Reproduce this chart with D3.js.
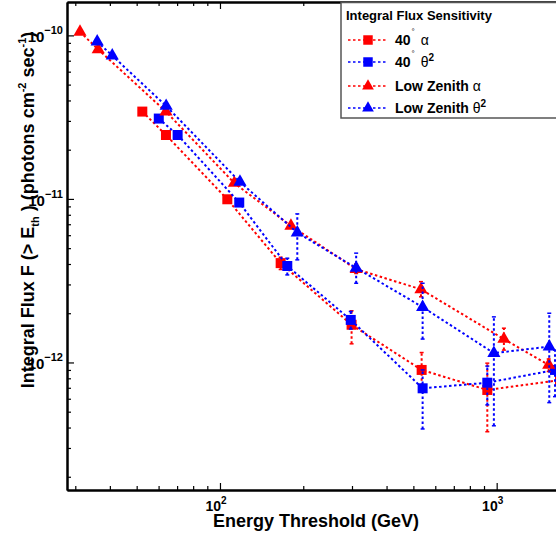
<!DOCTYPE html>
<html><head><meta charset="utf-8">
<script src="https://cdn.jsdelivr.net/npm/d3@7"></script>
<style>
body{margin:0;background:#fff;}
svg{display:block;font-family:"Liberation Sans",Arial,Helvetica,sans-serif;}
</style></head>
<body>
<script>
// ---- data ----
const seriesNames = ["40° α", "40° θ²", "Low Zenith α", "Low Zenith θ²"];
// 40 deg alpha (red squares)
const e40a  = [52.4, 63.8, 106.3, 165.7, 299, 535.6, 925, 1694];
const f40a  = [3.42e-11, 2.46e-11, 9.95e-12, 4.05e-12, 1.70e-12, 9.0e-13, 6.79e-13, 7.8e-13];
const lo40a = [null, null, null, 3.7e-12, 1.30e-12, 7.2e-13, 3.77e-13, null];
const hi40a = [null, null, null, 4.4e-12, 2.07e-12, 1.15e-12, 9.9e-13, null];
// 40 deg theta^2 (blue squares)
const e40t  = [60.1, 70.3, 117.4, 175.1, 296.9, 540, 925, 1625];
const f40t  = [3.1e-11, 2.46e-11, 9.5e-12, 3.89e-12, 1.82e-12, 6.95e-13, 7.52e-13, 9.0e-13];
const lo40t = [null, null, null, 3.43e-12, 1.6e-12, 3.92e-13, 5.5e-13, 6.18e-13];
const hi40t = [null, null, null, 4.34e-12, 2.05e-12, 9.0e-13, 9.5e-13, 1.19e-12];
// Low zenith alpha (red triangles)
const eLZa  = [31.2, 36.3, 63.8, 112.7, 180.5, 310.6, 532.6, 1062, 1542];
const fLZa  = [1.05e-10, 8.2e-11, 3.42e-11, 1.25e-11, 6.84e-12, 3.72e-12, 2.8e-12, 1.39e-12, 9.66e-13];
const loLZa = [null, null, null, null, null, 3.5e-12, 2.52e-12, 1.19e-12, 8.8e-13];
const hiLZa = [null, null, null, null, null, 4.0e-12, 3.12e-12, 1.62e-12, 1.05e-12];
// Low zenith theta^2 (blue triangles)
const eLZt  = [36.0, 40.8, 63.9, 118.1, 190.3, 310.6, 540, 977, 1549];
const fLZt  = [9.16e-11, 7.52e-11, 3.7e-11, 1.27e-11, 6.22e-12, 3.78e-12, 2.18e-12, 1.14e-12, 1.25e-12];
const loLZt = [null, null, null, null, 4.24e-12, 3.05e-12, 1.39e-12, 4.1e-13, 5.68e-13];
const hiLZt = [null, null, null, null, 8.1e-12, 4.66e-12, 3.05e-12, 1.9e-12, 2.0e-12];

const xMajor = [100, 1000];
const xMajorLabels = [["10","2"],["10","3"]];
const yMajor = [1e-10, 1e-11, 1e-12];
const yMajorLabels = [["10","−10"],["10","−11"],["10","−12"]];

(function(){
// ---- layout ----
const W = 556, H = 541;
const svg = d3.select("body").append("svg").attr("width", W).attr("height", H);
const leftX = 67, topY = 2, bottomY = 490, decade = 276.7;
const xDom = [28, 2500];
const x = d3.scaleLog().domain(xDom).range([leftX, leftX + decade * Math.log10(xDom[1] / xDom[0])]);
const y = d3.scaleLog().domain([1.66e-13, 1.6e-10]).range([bottomY, topY]);

const xMinor = [];
for (const d of [10, 100, 1000]) for (let k = 2; k <= 9; k++) { const v = k * d; if (v > xDom[0] && v < xDom[1]) xMinor.push(v); }
const yMinor = [];
for (const d of [1e-13, 1e-12, 1e-11, 1e-10]) for (let k = 2; k <= 9; k++) { const v = k * d; if (v > 1.66e-13 && v < 1.6e-10) yMinor.push(v); }

const defs = svg.append("defs");
defs.append("clipPath").attr("id", "clip").append("rect")
  .attr("x", leftX).attr("y", topY).attr("width", 700).attr("height", bottomY - topY);

// ---- axes ----
const ax = svg.append("g");
function noLabel(a){ return a.tickFormat(() => ""); }
ax.append("g").attr("transform", `translate(0,${bottomY})`)
  .call(noLabel(d3.axisBottom(x).tickValues(xMinor).tickSizeInner(-4).tickSizeOuter(0)));
ax.append("g").attr("transform", `translate(0,${bottomY})`)
  .call(noLabel(d3.axisBottom(x).tickValues(xMajor).tickSizeInner(-7).tickSizeOuter(0)));
ax.append("g").attr("transform", `translate(0,${topY})`)
  .call(noLabel(d3.axisTop(x).tickValues(xMinor).tickSizeInner(-4).tickSizeOuter(0)));
ax.append("g").attr("transform", `translate(0,${topY})`)
  .call(noLabel(d3.axisTop(x).tickValues(xMajor).tickSizeInner(-7).tickSizeOuter(0)));
ax.append("g").attr("transform", `translate(${leftX},0)`)
  .call(noLabel(d3.axisLeft(y).tickValues(yMinor).tickSizeInner(-4).tickSizeOuter(0)));
ax.append("g").attr("transform", `translate(${leftX},0)`)
  .call(noLabel(d3.axisLeft(y).tickValues(yMajor).tickSizeInner(-7).tickSizeOuter(0)));
ax.selectAll("path.domain").attr("stroke", "#000").attr("stroke-width", 2);
ax.selectAll(".tick line").attr("stroke", "#000").attr("stroke-width", 1.2);

xMajor.forEach((v, i) => {
  const t = svg.append("text").attr("x", x(v) - 4).attr("y", 511)
    .attr("text-anchor", "middle").attr("font-size", 14).attr("font-weight", "bold");
  t.append("tspan").text(xMajorLabels[i][0]);
  t.append("tspan").attr("font-size", 10).attr("dy", -7).text(xMajorLabels[i][1]);
});
yMajor.forEach((v, i) => {
  const t = svg.append("text").attr("x", 63).attr("y", y(v) + 7)
    .attr("text-anchor", "end").attr("font-size", 15).attr("font-weight", "bold");
  t.append("tspan").text(yMajorLabels[i][0]);
  t.append("tspan").attr("font-size", 11).attr("dy", -8).text(yMajorLabels[i][1]);
});

svg.append("text").attr("x", 316).attr("y", 527).attr("text-anchor", "middle")
  .attr("font-size", 18).attr("font-weight", "bold").text("Energy Threshold (GeV)");
const yt = svg.append("text").attr("transform", "translate(34,210) rotate(-90)")
  .attr("text-anchor", "middle").attr("font-size", 18).attr("font-weight", "bold");
yt.append("tspan").text("Integral Flux F (> E");
yt.append("tspan").attr("font-size", 11).attr("dy", 5).text("th");
yt.append("tspan").attr("dy", -5).text(" ) (photons cm");
yt.append("tspan").attr("font-size", 11).attr("dy", -8).text("-2");
yt.append("tspan").attr("dy", 8).text(" sec");
yt.append("tspan").attr("font-size", 11).attr("dy", -8).text("-1");
yt.append("tspan").attr("dy", 8).text(")");

// ---- series ----
const RED = "#ff0000", BLUE = "#0000ff";
const series = [
  {name: seriesNames[0], e: e40a, f: f40a, lo: lo40a, hi: hi40a, color: RED, sym: d3.symbolSquare},
  {name: seriesNames[1], e: e40t, f: f40t, lo: lo40t, hi: hi40t, color: BLUE, sym: d3.symbolSquare},
  {name: seriesNames[2], e: eLZa, f: fLZa, lo: loLZa, hi: hiLZa, color: RED, sym: d3.symbolTriangle},
  {name: seriesNames[3], e: eLZt, f: fLZt, lo: loLZt, hi: hiLZt, color: BLUE, sym: d3.symbolTriangle},
];
const plot = svg.append("g").attr("clip-path", "url(#clip)");
const line = d3.line().x(d => x(d[0])).y(d => y(d[1]));
const symSize = s => s === d3.symbolSquare ? 100 : 75;

series.forEach(s => {
  const pts = s.e.map((e, i) => [e, s.f[i], s.lo[i], s.hi[i]]);
  const g = plot.append("g");
  g.selectAll("line.err").data(pts.filter(p => p[2] != null)).join("line")
    .attr("x1", p => x(p[0])).attr("x2", p => x(p[0]))
    .attr("y1", p => y(p[2])).attr("y2", p => y(p[3]))
    .attr("stroke", s.color).attr("stroke-width", 2).attr("stroke-dasharray", "2.5,2.5");
  g.selectAll("line.cap").data(pts.filter(p => p[2] != null).flatMap(p => [[p[0], p[2]], [p[0], p[3]]])).join("line")
    .attr("x1", p => x(p[0]) - 2).attr("x2", p => x(p[0]) + 2)
    .attr("y1", p => y(p[1])).attr("y2", p => y(p[1]))
    .attr("stroke", s.color).attr("stroke-width", 1.5);
  g.append("path").attr("d", line(pts)).attr("fill", "none")
    .attr("stroke", s.color).attr("stroke-width", 2).attr("stroke-dasharray", "2.5,2.5");
  g.selectAll("path.m").data(pts).join("path")
    .attr("transform", p => `translate(${x(p[0])},${y(p[1])})`)
    .attr("d", d3.symbol().type(s.sym).size(symSize(s.sym)))
    .attr("fill", s.color);
});

// ---- legend ----
const lg = svg.append("g");
lg.append("rect").attr("x", 341).attr("y", 2.5).attr("width", 300).attr("height", 115.5)
  .attr("fill", "#fff").attr("stroke", "#555").attr("stroke-width", 1.5);
lg.append("text").attr("x", 346).attr("y", 20).attr("font-size", 13).attr("font-weight", "bold")
  .text("Integral Flux Sensitivity");
const rowsY = [40, 62, 86, 108];
series.forEach((s, i) => {
  const ry = rowsY[i];
  lg.append("line").attr("x1", 348).attr("x2", 386).attr("y1", ry).attr("y2", ry)
    .attr("stroke", s.color).attr("stroke-width", 1.5).attr("stroke-dasharray", "2.5,2.5");
  lg.append("path").attr("transform", `translate(368,${ry})`)
    .attr("d", d3.symbol().type(s.sym).size(s.sym === d3.symbolSquare ? 90 : 60)).attr("fill", s.color);
  const t = lg.append("text").attr("x", 395).attr("y", ry + 5).attr("font-size", 14);
  if (s.name.startsWith("40")) {
    t.append("tspan").attr("font-weight", "bold").text("40");
    t.append("tspan").attr("font-size", 8).attr("dy", -11).attr("dx", 1).text("°");
    t.append("tspan").attr("dy", 11).attr("dx", 2).text(" ");
  } else {
    t.append("tspan").attr("font-weight", "bold").text("Low Zenith ");
  }
  if (s.name.endsWith("α")) {
    t.append("tspan").text("α");
  } else {
    t.append("tspan").text("θ");
    t.append("tspan").attr("font-size", 10).attr("font-weight", "bold").attr("dy", -6).text("2");
  }
});
})();
</script>
</body></html>
